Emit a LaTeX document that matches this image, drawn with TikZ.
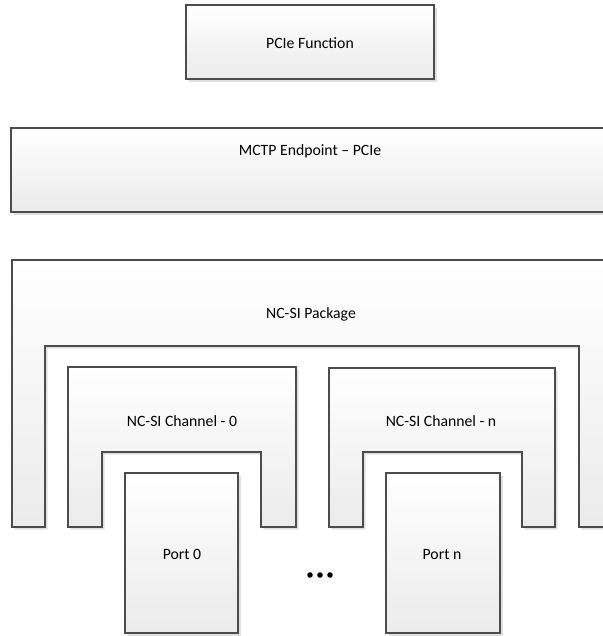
\documentclass[tikz,border=0pt]{standalone}
\usepackage{fontspec}
\setmainfont{Carlito}
\usetikzlibrary{shadows}

\begin{document}
\begin{tikzpicture}[x=0.75pt,y=-0.75pt,
        box/.style={draw=black!70, line width=0.8pt, top color=white, bottom color=black!8,
            drop shadow={shadow xshift=2pt, shadow yshift=-2pt, fill=black!12, opacity=1}},
        lbl/.style={anchor=base, font=\fontsize{11.8}{13}\selectfont, text=black}]
        \useasboundingbox (0,0) rectangle (603,636);
        \clip (0,0) rectangle (603,636);

        % top level
        \draw[box] (186,5) rectangle (434,79);
        \node[lbl] (pcie) at (310,48) {PCIe Function};

        \draw[box] (11,128) rectangle (614,212);
        \node[lbl] (mctp) at (310,155) {MCTP Endpoint -- PCIe};

        % package
        \draw[box] (12,260)--(613,260)--(613,527)--(579,527)--(579,346)--(45,346)--(45,527)--(12,527)--cycle;
        \node[lbl] (pkg) at (311,318) {NC-SI Package};

        % channels
        \draw[box] (68,367)--(296,367)--(296,527)--(261,527)--(261,452)--(102,452)--(102,527)--(68,527)--cycle;
        \node[lbl] (chan0) at (182,426) {NC-SI Channel - 0};

        \draw[box] (329,368)--(555,368)--(555,527)--(522,527)--(522,452)--(363,452)--(363,527)--(329,527)--cycle;
        \node[lbl] (chann) at (441,426) {NC-SI Channel - n};

        % ports
        \draw[box] (125,473) rectangle (238,633);
        \node[lbl] (port0) at (182,559) {Port 0};

        \draw[box] (386,473) rectangle (500,633);
        \node[lbl] (portn) at (442,559) {Port n};

        \foreach \x in {310,320,330}
            \fill (\x,575) circle (2.8);
\end{tikzpicture}
\end{document}
